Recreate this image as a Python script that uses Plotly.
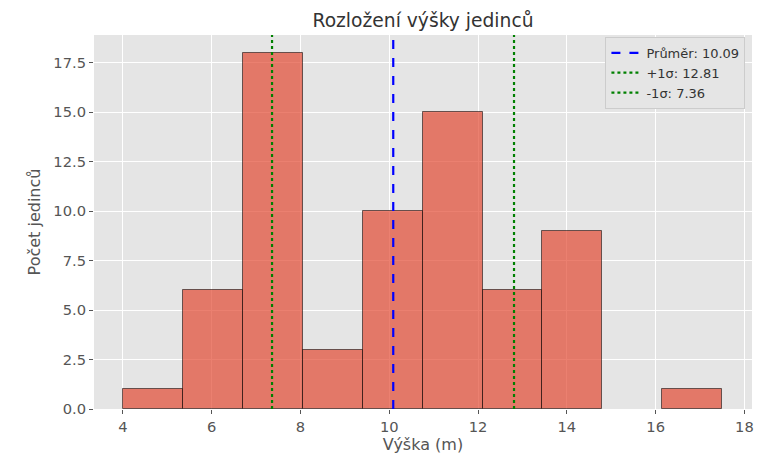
import plotly.graph_objects as go

# Data
bin_edges = [4.0, 5.35, 6.7, 8.05, 9.4, 10.75, 12.1, 13.45, 14.8, 16.15, 17.5]
counts = [1, 6, 18, 3, 10, 15, 6, 9, 0, 1]
mean_val = 10.09
plus_sigma = 12.81
minus_sigma = 7.36

centers = [(bin_edges[i] + bin_edges[i + 1]) / 2 for i in range(len(counts))]
widths = [bin_edges[i + 1] - bin_edges[i] for i in range(len(counts))]
edge_widths = [1 if c > 0 else 0 for c in counts]

y_max = 18.9
font = "DejaVu Sans, Liberation Sans, sans-serif"

fig = go.Figure()
fig.add_trace(go.Bar(
    x=centers, y=counts, width=widths,
    marker=dict(color="rgba(226,74,51,0.7)", line=dict(color="rgba(0,0,0,0.55)", width=edge_widths)),
    showlegend=False, hoverinfo="x+y",
))
fig.add_trace(go.Scatter(
    x=[mean_val, mean_val], y=[0, y_max], mode="lines",
    line=dict(color="#0000FF", width=2.2, dash="dash"),
    name=f"Průměr: {mean_val:.2f}",
))
fig.add_trace(go.Scatter(
    x=[plus_sigma, plus_sigma], y=[0, y_max], mode="lines",
    line=dict(color="#008000", width=2.2, dash="dot"),
    name=f"+1σ: {plus_sigma:.2f}",
))
fig.add_trace(go.Scatter(
    x=[minus_sigma, minus_sigma], y=[0, y_max], mode="lines",
    line=dict(color="#008000", width=2.2, dash="dot"),
    name=f"-1σ: {minus_sigma:.2f}",
))

fig.update_layout(
    width=758, height=457,
    margin=dict(l=94, r=4, t=35, b=48),
    paper_bgcolor="white",
    plot_bgcolor="#E5E5E5",
    font=dict(family=font, color="#555555", size=14.7),
    title=dict(text="Rozložení výšky jedinců", x=0.5, xref="paper", xanchor="center",
               y=0.956, yanchor="middle", font=dict(size=18.7, color="#333333")),
    bargap=0,
    legend=dict(x=0.99, y=0.995, xanchor="right", yanchor="top",
                bgcolor="#E5E5E5", bordercolor="#CCCCCC", borderwidth=1,
                font=dict(size=13, color="#333333"), tracegroupgap=0),
    xaxis=dict(range=[3.35, 18.17], tickmode="linear", tick0=4, dtick=2,
               showgrid=True, gridcolor="white", gridwidth=1, zeroline=False,
               ticks="outside", ticklen=4, tickcolor="#555555",
               title=dict(text="Výška (m)", font=dict(size=16, color="#555555"), standoff=5)),
    yaxis=dict(range=[0, y_max], tickmode="linear", tick0=0, dtick=2.5, tickformat=".1f",
               showgrid=True, gridcolor="white", gridwidth=1, zeroline=False,
               ticks="outside", ticklen=4, tickcolor="#555555",
               title=dict(text="Počet jedinců", font=dict(size=16, color="#555555"), standoff=8)),
)

fig.write_html("out.html", config={"displayModeBar": False},
               post_script="document.body.style.margin='0';document.body.style.overflow='hidden';")
